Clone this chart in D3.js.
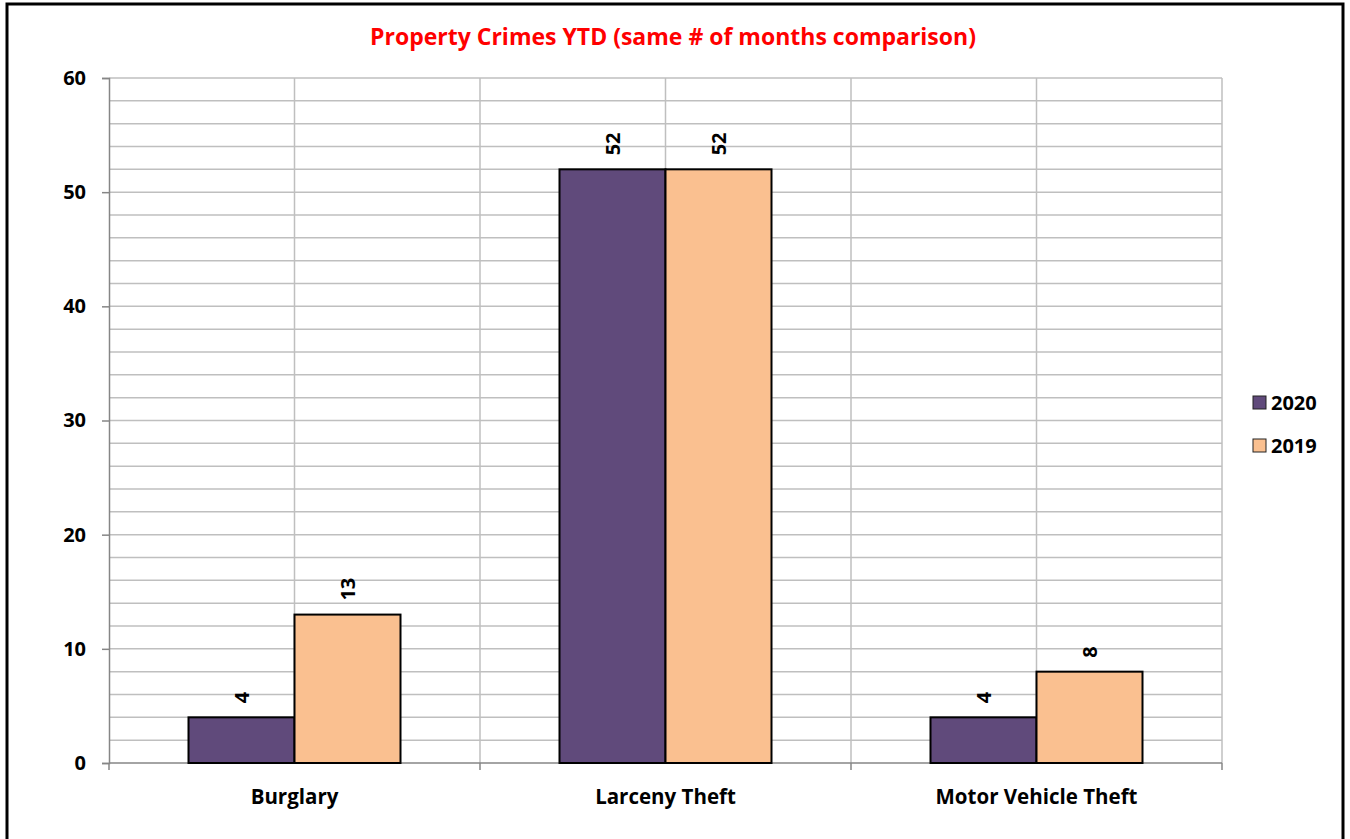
<!DOCTYPE html>
<html lang="en">
<head>
    <meta charset="UTF-8">
    <title>Property Crimes YTD</title>
    <script src="https://d3js.org/d3.v7.min.js"></script>
    <style>
        body { margin: 0; background: #fff; font-family: "Open Sans", Arial, sans-serif; }
        text { font-weight: bold; }
    </style>
</head>
<body>
    <div id="chart"></div>
    <script>
        // Data
        const categories = ['Burglary', 'Larceny Theft', 'Motor Vehicle Theft'];
        const seriesNames = ['2020', '2019'];
        const values2020 = [4, 52, 4];
        const values2019 = [13, 52, 8];
        const yTicks = [0, 10, 20, 30, 40, 50, 60];

        const colors = { '2020': '#604A7B', '2019': '#FAC090' };

        const width = 1350, height = 839;
        const margin = { top: 78, left: 109, right: 128, bottom: 76 };

        const svg = d3.select('#chart')
            .append('svg')
            .attr('width', width)
            .attr('height', height);

        // Outer border
        svg.append('rect')
            .attr('x', 7).attr('y', 4)
            .attr('width', 1336).attr('height', 850)
            .attr('fill', 'none')
            .attr('stroke', '#000')
            .attr('stroke-width', 3);

        // Title
        svg.append('text')
            .attr('x', 673).attr('y', 45)
            .attr('text-anchor', 'middle')
            .attr('fill', '#FF0000')
            .style('font-size', '23px')
            .text('Property Crimes YTD (same # of months comparison)');

        const x0 = d3.scaleBand()
            .domain(categories)
            .range([margin.left, width - margin.right])
            .padding(0);

        const x1 = d3.scaleBand()
            .domain(seriesNames)
            .range([0, x0.bandwidth()])
            .paddingInner(0)
            .paddingOuter(0.75);

        const y = d3.scaleLinear()
            .domain([0, 60])
            .range([height - margin.bottom, margin.top]);

        const grid = svg.append('g');

        // Horizontal grid lines every 2
        grid.selectAll('.hgrid')
            .data(d3.range(2, 61, 2))
            .enter()
            .append('line')
            .attr('x1', x0.range()[0]).attr('x2', x0.range()[1])
            .attr('y1', d => y(d)).attr('y2', d => y(d))
            .attr('stroke', '#BFBFBF')
            .attr('stroke-width', 1.5);

        // Vertical grid lines at category centres and boundaries
        const vLines = [];
        categories.forEach(c => {
            vLines.push(x0(c) + x0.bandwidth() / 2);
            vLines.push(x0(c) + x0.bandwidth());
        });
        grid.selectAll('.vgrid')
            .data(vLines)
            .enter()
            .append('line')
            .attr('x1', d => d).attr('x2', d => d)
            .attr('y1', y(60)).attr('y2', y(0))
            .attr('stroke', '#BFBFBF')
            .attr('stroke-width', 1.5);

        // Y axis
        const yAxis = svg.append('g')
            .attr('transform', `translate(${margin.left},0)`)
            .call(d3.axisLeft(y).tickValues(yTicks).tickSize(7).tickPadding(16));
        yAxis.select('.domain').attr('stroke', '#868686').attr('stroke-width', 1.5);
        yAxis.selectAll('.tick line').attr('stroke', '#868686').attr('stroke-width', 1.5);
        yAxis.selectAll('.tick text')
            .attr('fill', '#000')
            .style('font-size', '20px')
            .style('font-family', '"Open Sans", Arial, sans-serif')
            .style('font-weight', 'bold');

        // X axis
        const xAxisY = y(0);
        svg.append('line')
            .attr('x1', x0.range()[0]).attr('x2', x0.range()[1])
            .attr('y1', xAxisY).attr('y2', xAxisY)
            .attr('stroke', '#868686').attr('stroke-width', 1.5);
        svg.selectAll('.xtick')
            .data([x0.range()[0]].concat(categories.map(c => x0(c) + x0.bandwidth())))
            .enter()
            .append('line')
            .attr('x1', d => d).attr('x2', d => d)
            .attr('y1', xAxisY).attr('y2', xAxisY + 7)
            .attr('stroke', '#868686').attr('stroke-width', 1.5);
        svg.selectAll('.xlabel')
            .data(categories)
            .enter()
            .append('text')
            .attr('x', d => x0(d) + x0.bandwidth() / 2)
            .attr('y', xAxisY + 41)
            .attr('text-anchor', 'middle')
            .style('font-size', '20.5px')
            .text(d => d);

        // Bars
        const rows = categories.map((c, i) => ({
            category: c,
            values: [
                { key: '2020', value: values2020[i] },
                { key: '2019', value: values2019[i] }
            ]
        }));

        const groups = svg.selectAll('.group')
            .data(rows)
            .enter()
            .append('g')
            .attr('transform', d => `translate(${x0(d.category)},0)`);

        groups.selectAll('rect')
            .data(d => d.values)
            .enter()
            .append('rect')
            .attr('x', d => x1(d.key))
            .attr('y', d => y(d.value))
            .attr('width', x1.bandwidth())
            .attr('height', d => y(0) - y(d.value))
            .attr('fill', d => colors[d.key])
            .attr('stroke', '#000')
            .attr('stroke-width', 2);

        groups.selectAll('.label')
            .data(d => d.values)
            .enter()
            .append('text')
            .attr('transform', d => `translate(${x1(d.key) + x1.bandwidth() / 2 + 7},${y(d.value) - 14}) rotate(-90)`)
            .attr('text-anchor', 'start')
            .style('font-size', '20px')
            .text(d => d.value);

        // Legend
        const legend = svg.selectAll('.legend')
            .data(seriesNames)
            .enter()
            .append('g')
            .attr('transform', (d, i) => `translate(1253,${396 + i * 43})`);

        legend.append('rect')
            .attr('width', 13).attr('height', 13)
            .attr('fill', d => colors[d])
            .attr('stroke', '#222')
            .attr('stroke-width', 1);

        legend.append('text')
            .attr('x', 18).attr('y', 14)
            .style('font-size', '20px')
            .text(d => d);
    </script>
</body>
</html>
